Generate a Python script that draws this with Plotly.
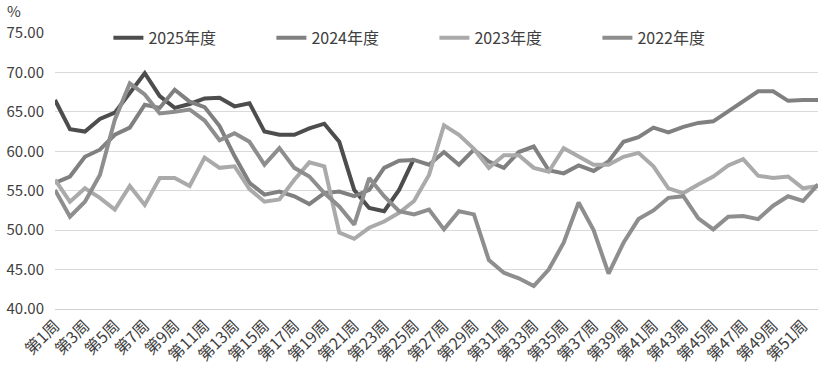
import plotly.graph_objects as go

weeks = [f"第{i}周" for i in range(1, 53)]
tick_labels = weeks[::2]

y2025 = [66.5, 62.8, 62.5, 64.1, 64.9, 67.4, 69.9, 67.0, 65.5, 66.0, 66.7, 66.8, 65.7, 66.1, 62.5,
         62.1, 62.1, 62.9, 63.5, 61.2, 55.1, 52.8, 52.4, 55.1, 59.1]
y2024 = [56.0, 56.8, 59.3, 60.2, 62.1, 63.0, 65.9, 65.5, 67.8, 66.3, 65.6, 63.2, 59.4, 56.0, 54.5,
         54.9, 54.3, 53.3, 54.7, 54.9, 54.3, 55.1, 57.9, 58.8, 58.9, 58.3, 59.9, 58.3, 60.2, 58.7,
         57.9, 59.9, 60.6, 57.6, 57.2, 58.2, 57.5, 58.7, 61.2, 61.8, 63.0, 62.4, 63.1, 63.6, 63.8,
         65.1, 66.3, 67.6, 67.6, 66.4, 66.5, 66.5]
y2023 = [56.4, 53.6, 55.3, 54.1, 52.6, 55.6, 53.2, 56.6, 56.6, 55.6, 59.2, 57.9, 58.1, 55.2, 53.6,
         53.9, 56.4, 58.6, 58.1, 49.7, 48.9, 50.3, 51.1, 52.2, 53.7, 57.0, 63.3, 62.1, 60.3, 57.9,
         59.5, 59.5, 57.9, 57.4, 60.4, 59.3, 58.3, 58.3, 59.3, 59.8, 58.1, 55.3, 54.7, 55.8, 56.8,
         58.2, 59.0, 56.9, 56.6, 56.8, 55.3, 55.6]
y2022 = [55.1, 51.7, 53.6, 57.0, 64.0, 68.6, 67.2, 64.8, 65.0, 65.3, 63.9, 61.4, 62.3, 61.2, 58.3,
         60.4, 57.9, 56.8, 54.7, 53.0, 50.7, 56.6, 54.3, 52.4, 52.0, 52.6, 50.1, 52.4, 52.0, 46.2,
         44.6, 43.9, 42.9, 45.0, 48.4, 53.5, 50.0, 44.5, 48.4, 51.4, 52.5, 54.1, 54.3, 51.5, 50.1,
         51.7, 51.8, 51.4, 53.1, 54.3, 53.7, 55.8]

series = [
    ("2025年度", y2025, "#4d4d4d"),
    ("2024年度", y2024, "#808080"),
    ("2023年度", y2023, "#aaaaaa"),
    ("2022年度", y2022, "#8e8e8e"),
]

FONT = "Noto Sans CJK SC, Microsoft YaHei, sans-serif"

fig = go.Figure()
for name, vals, color in series:
    fig.add_trace(go.Scatter(
        x=weeks[:len(vals)], y=vals, name=name, mode="lines",
        line=dict(color=color, width=4),
    ))

fig.update_layout(
    width=823, height=379,
    margin=dict(l=55, r=5, t=33, b=70),
    paper_bgcolor="white", plot_bgcolor="white",
    font=dict(family=FONT, size=15, color="#404040"),
    showlegend=True,
    legend=dict(
        orientation="h", x=0.070, y=0.982, xanchor="left", yanchor="middle",
        bgcolor="rgba(0,0,0,0)", entrywidth=118, entrywidthmode="pixels",
        font=dict(family=FONT, size=16, color="#404040"),
        traceorder="normal",
    ),
    xaxis=dict(
        type="category", categoryorder="array", categoryarray=weeks,
        tickmode="array", tickvals=tick_labels, ticktext=tick_labels,
        tickangle=-45, showgrid=False, showline=True, linecolor="#d0d0d0",
        ticks="", tickfont=dict(family=FONT, size=16, color="#404040"),
    ),
    yaxis=dict(
        range=[40, 75], dtick=5, tickformat=".2f", showgrid=True,
        gridcolor="#d9d9d9", gridwidth=1, zeroline=False, showline=False,
        ticks="", ticklabelstandoff=10,
        tickfont=dict(family=FONT, size=15, color="#404040"),
    ),
    annotations=[dict(text="%", xref="paper", yref="paper", x=-0.054, y=1.08,
                      xanchor="center", yanchor="middle", showarrow=False,
                      font=dict(family=FONT, size=15, color="#404040"))],
)

fig.write_html("out.html", config={"displayModeBar": False},
               post_script="document.body.style.margin='0';")
